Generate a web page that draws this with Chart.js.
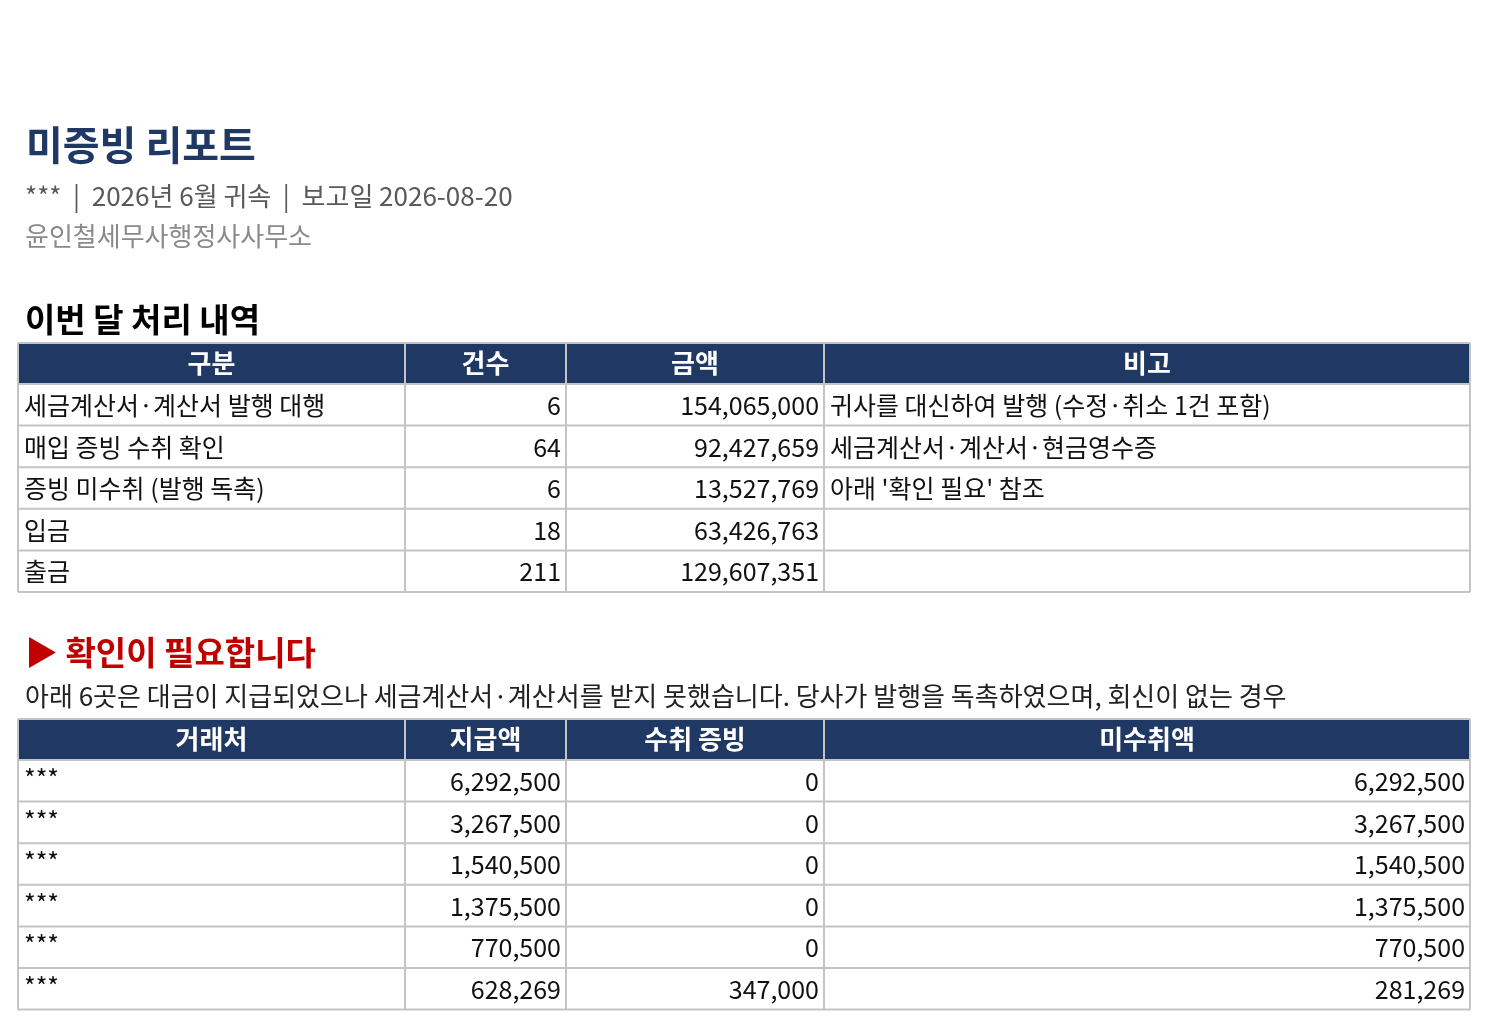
<!DOCTYPE html>
<html>
<head>
<meta charset="utf-8">
<script src="https://cdn.jsdelivr.net/npm/chart.js@4"></script>
<style>
  body { margin: 0; background: #fff; }
  #wrap { width: 1500px; height: 1030px; }
</style>
</head>
<body>
<div id="wrap"><canvas id="report" width="1500" height="1030"></canvas></div>
<script>
// Report text
const reportTitle = '미증빙 리포트';
const reportSub = '***  |  2026년 6월 귀속  |  보고일 2026-08-20';
const reportFirm = '윤인철세무사행정사사무소';
const section1Title = '이번 달 처리 내역';
const section2Title = '▶ 확인이 필요합니다';
const section2Desc = '아래 6곳은 대금이 지급되었으나 세금계산서·계산서를 받지 못했습니다. 당사가 발행을 독촉하였으며, 회신이 없는 경우';

// Table 1
const summaryHeaders = ['구분', '건수', '금액', '비고'];
const summaryLabels = ['세금계산서·계산서 발행 대행', '매입 증빙 수취 확인', '증빙 미수취 (발행 독촉)', '입금', '출금'];
const summaryCounts = [6, 64, 6, 18, 211];
const summaryAmounts = [154065000, 92427659, 13527769, 63426763, 129607351];
const summaryNotes = ['귀사를 대신하여 발행 (수정·취소 1건 포함)', '세금계산서·계산서·현금영수증', "아래 '확인 필요' 참조", '', ''];

// Table 2
const pendingHeaders = ['거래처', '지급액', '수취 증빙', '미수취액'];
const pendingVendors = ['***', '***', '***', '***', '***', '***'];
const pendingPaid = [6292500, 3267500, 1540500, 1375500, 770500, 628269];
const pendingReceived = [0, 0, 0, 0, 0, 347000];
const pendingMissing = [6292500, 3267500, 1540500, 1375500, 770500, 281269];

const FONT = '"Noto Sans CJK KR", "Noto Sans", sans-serif';
const NAVY = '#1f3864';
const fmt = v => v.toLocaleString('en-US');

// column edges and row edges (layout units, mapped through the chart scales)
const colEdges = [18, 405, 566, 824, 1470];

function drawTable(ctx, xs, ys, top, headers, rows, aligns, vendorTop) {
  const X = v => xs.getPixelForValue(v);
  const Y = v => ys.getPixelForValue(v);
  const hh = 41, rh = 41.6;
  // header
  ctx.fillStyle = NAVY;
  ctx.fillRect(X(colEdges[0]), Y(top), X(colEdges[4]) - X(colEdges[0]), hh);
  ctx.fillStyle = '#fff';
  ctx.font = 'bold 26px ' + FONT;
  ctx.textAlign = 'center';
  ctx.textBaseline = 'middle';
  headers.forEach((h, i) => ctx.fillText(h, (X(colEdges[i]) + X(colEdges[i + 1])) / 2, Y(top + hh / 2)));
  // body
  ctx.font = '25px ' + FONT;
  ctx.fillStyle = '#111';
  rows.forEach((r, ri) => {
    const y0 = top + hh + ri * rh;
    r.forEach((cell, ci) => {
      const a = aligns[ci];
      ctx.textAlign = a;
      let x = a === 'left' ? X(colEdges[ci]) + 6 : X(colEdges[ci + 1]) - 5;
      if (ci === 0 && vendorTop) {
        ctx.textBaseline = 'top';
        ctx.fillText(cell, x, Y(y0 + 6));
      } else {
        ctx.textBaseline = 'alphabetic';
        ctx.fillText(cell, x, Y(y0 + 31));
      }
    });
  });
  // grid
  const bottom = top + hh + rows.length * rh;
  ctx.strokeStyle = '#c4c4c4';
  ctx.lineWidth = 2;
  for (let i = 0; i <= rows.length; i++) {
    const y = top + hh + i * rh;
    ctx.beginPath(); ctx.moveTo(X(colEdges[0]), Y(y)); ctx.lineTo(X(colEdges[4]), Y(y)); ctx.stroke();
  }
  ctx.beginPath(); ctx.moveTo(X(colEdges[0]), Y(top)); ctx.lineTo(X(colEdges[4]), Y(top)); ctx.stroke();
  colEdges.forEach(c => {
    ctx.beginPath(); ctx.moveTo(X(c), Y(top)); ctx.lineTo(X(c), Y(bottom)); ctx.stroke();
  });
}

const reportPlugin = {
  id: 'report',
  afterDraw(chart) {
    const ctx = chart.ctx, xs = chart.scales.x, ys = chart.scales.y;
    const X = v => xs.getPixelForValue(v), Y = v => ys.getPixelForValue(v);
    ctx.save();
    ctx.textBaseline = 'alphabetic';
    ctx.textAlign = 'left';
    ctx.fillStyle = NAVY;
    ctx.font = 'bold 40px ' + FONT;
    ctx.fillText(reportTitle, X(26), Y(160));
    ctx.fillStyle = '#595959';
    ctx.font = '26px ' + FONT;
    ctx.fillText(reportSub, X(25), Y(206));
    ctx.fillStyle = '#8a8a8a';
    ctx.fillText(reportFirm, X(25), Y(246));
    ctx.fillStyle = '#000';
    ctx.font = 'bold 33px ' + FONT;
    ctx.fillText(section1Title, X(25), Y(332));

    drawTable(ctx, xs, ys, 343, summaryHeaders,
      summaryLabels.map((l, i) => [l, String(summaryCounts[i]), fmt(summaryAmounts[i]), summaryNotes[i]]),
      ['left', 'right', 'right', 'left'], false);

    ctx.textBaseline = 'alphabetic';
    ctx.textAlign = 'left';
    ctx.fillStyle = '#c00000';
    ctx.font = 'bold 33px ' + FONT;
    ctx.fillText(section2Title, X(25), Y(665));
    ctx.save();
    ctx.beginPath(); ctx.rect(0, 0, X(1473), chart.height); ctx.clip();
    ctx.fillStyle = '#222';
    ctx.font = '26px ' + FONT;
    ctx.fillText(section2Desc, X(25), Y(706));
    ctx.restore();

    drawTable(ctx, xs, ys, 719, pendingHeaders,
      pendingVendors.map((v, i) => [v, fmt(pendingPaid[i]), fmt(pendingReceived[i]), fmt(pendingMissing[i])]),
      ['left', 'right', 'right', 'right'], true);
    ctx.restore();
  }
};

new Chart(document.getElementById('report'), {
  type: 'scatter',
  data: { datasets: [{ data: [] }] },
  options: {
    responsive: false,
    animation: false,
    devicePixelRatio: 1,
    layout: { padding: 0 },
    plugins: { legend: { display: false }, tooltip: { enabled: false } },
    scales: {
      x: { type: 'linear', min: 0, max: 1500, display: false },
      y: { type: 'linear', min: 0, max: 1030, reverse: true, display: false }
    }
  },
  plugins: [reportPlugin]
});
</script>
</body>
</html>
